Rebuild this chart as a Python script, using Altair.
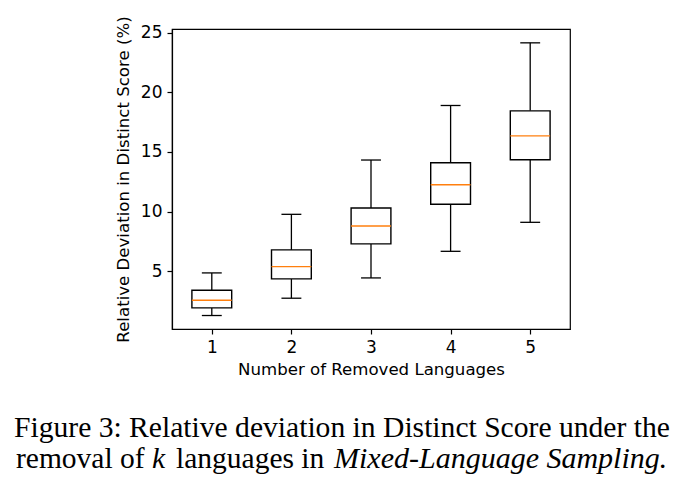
import altair as alt
import pandas as pd

# Data
ks = [1, 2, 3, 4, 5]
whislo = [1.29, 2.74, 4.44, 6.67, 9.10]
q1 = [1.93, 4.36, 7.29, 10.61, 14.34]
med = [2.57, 5.39, 8.79, 12.25, 16.35]
q3 = [3.41, 6.79, 10.30, 14.09, 18.44]
whishi = [4.86, 9.77, 14.32, 18.89, 24.14]
y_ticks = [5, 10, 15, 20, 25]

x_title = "Number of Removed Languages"
y_title = "Relative Deviation in Distinct Score (%)"

df = pd.DataFrame({"k": ks, "whislo": whislo, "q1": q1, "med": med,
                   "q3": q3, "whishi": whishi})

xs = alt.Scale(domain=[0.5, 5.5], nice=False, zero=False)
ys = alt.Scale(domain=[0.16, 25.3], nice=False, zero=False)
xa = alt.Axis(values=ks, format="d", title=x_title, titlePadding=6)
ya = alt.Axis(values=y_ticks, format="d", title=y_title, titlePadding=9)

base = alt.Chart(df).transform_calculate(
    bl="datum.k - 0.25", br="datum.k + 0.25",
    cl="datum.k - 0.125", cr="datum.k + 0.125",
)

wlo = base.mark_rule(color="black", strokeWidth=1.3).encode(
    x=alt.X("k:Q", scale=xs, axis=xa),
    y=alt.Y("whislo:Q", scale=ys, axis=ya), y2="q1:Q")
whi = base.mark_rule(color="black", strokeWidth=1.3).encode(
    x=alt.X("k:Q", scale=xs, axis=xa),
    y=alt.Y("q3:Q", scale=ys, axis=ya), y2="whishi:Q")
clo = base.mark_rule(color="black", strokeWidth=1.3).encode(
    x=alt.X("cl:Q", scale=xs, axis=xa), x2="cr:Q",
    y=alt.Y("whislo:Q", scale=ys, axis=ya))
chi = base.mark_rule(color="black", strokeWidth=1.3).encode(
    x=alt.X("cl:Q", scale=xs, axis=xa), x2="cr:Q",
    y=alt.Y("whishi:Q", scale=ys, axis=ya))
box = base.mark_rect(fill="white", stroke="black", strokeWidth=1.4).encode(
    x=alt.X("bl:Q", scale=xs, axis=xa), x2="br:Q",
    y=alt.Y("q1:Q", scale=ys, axis=ya), y2="q3:Q")
mline = base.mark_rule(color="#ff7f0e", strokeWidth=1.3).encode(
    x=alt.X("bl:Q", scale=xs, axis=xa), x2="br:Q",
    y=alt.Y("med:Q", scale=ys, axis=ya))

OX, OY = 172, 29  # view origin in page pixels


def cap(text, px, py, italic=False, size=29.5):
    return alt.Chart(df).mark_text(
        text=text, font="Liberation Serif", fontSize=size,
        fontStyle="italic" if italic else "normal",
        align="left", baseline="alphabetic", color="black",
    ).encode(x=alt.value(px - OX), y=alt.value(py - OY)).transform_filter("datum.k == 1")


captions = [
    cap("Figure 3: Relative deviation in Distinct Score under the", 14, 437, size=29.6),
    cap("removal of", 16, 468),
    cap("k", 152, 468, italic=True),
    cap("languages in", 176, 468),
    cap("Mixed-Language Sampling", 334, 468, italic=True, size=30),
    cap(".", 659, 468),
]

chart = alt.layer(wlo, whi, clo, chi, box, mline, *captions).properties(
    width=398, height=300,
    autosize=alt.AutoSizeParams(type="none"),
    padding={"left": OX, "top": OY, "right": 686 - OX - 398, "bottom": 495 - OY - 300},
    background="white",
).configure_view(stroke="black", strokeWidth=1.2).configure_axis(
    grid=False,
    labelFont="DejaVu Sans", labelFontSize=17, labelColor="black",
    titleFont="DejaVu Sans", titleFontSize=16.6, titleFontWeight="normal",
    titleColor="black", tickColor="black", domainColor="black",
    tickSize=5, labelPadding=5, domainWidth=1.2, tickWidth=1.2,
)

chart.save("out.html", embed_options={"renderer": "svg", "actions": False})
